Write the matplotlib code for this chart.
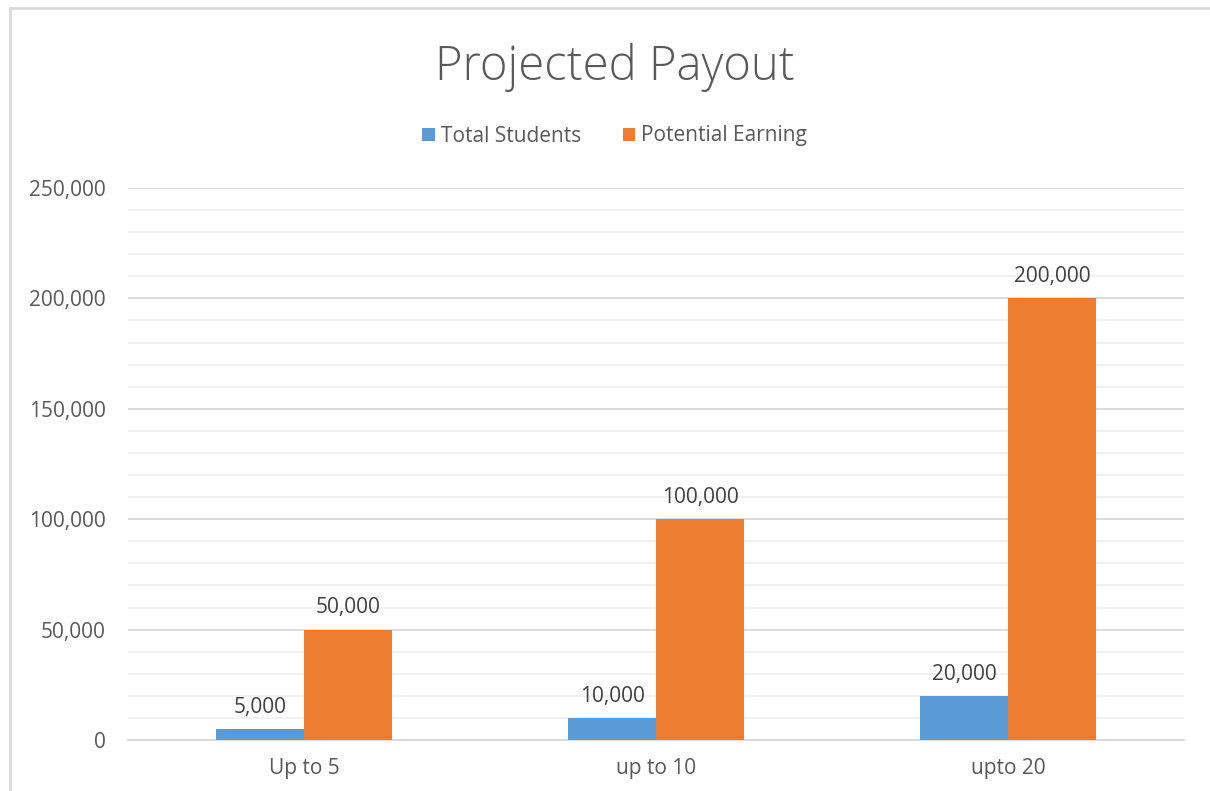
import numpy as np
import matplotlib.pyplot as plt
from matplotlib.lines import Line2D
from matplotlib.ticker import MultipleLocator, FuncFormatter

categories = ['Up to 5', 'up to 10', 'upto 20']
total_students = [5000, 10000, 20000]
potential_earning = [50000, 100000, 200000]

plt.rcParams['font.family'] = ['Open Sans', 'DejaVu Sans']
text_color = '#595959'

fig = plt.figure(figsize=(12.1, 7.91), dpi=100)
ax = fig.add_axes([128 / 1210, 1 - 740 / 791, 1056 / 1210, 552 / 791])

x = np.arange(len(categories))
w = 0.25
b1 = ax.bar(x - w / 2, total_students, w, color='#5B9BD5', label='Total Students', zorder=3)
b2 = ax.bar(x + w / 2, potential_earning, w, color='#ED7D31', label='Potential Earning', zorder=3)

fmt = FuncFormatter(lambda v, p: f'{int(v):,}')
for bars in (b1, b2):
    ax.bar_label(bars, labels=[f'{int(b.get_height()):,}' for b in bars],
                 padding=8, fontsize=15, color='#404040')

ax.set_xlim(-0.5, len(categories) - 0.5)
ax.set_ylim(0, 250000)
ax.yaxis.set_major_locator(MultipleLocator(50000))
ax.yaxis.set_minor_locator(MultipleLocator(10000))
ax.yaxis.set_major_formatter(fmt)
ax.set_xticks(x)
ax.set_xticklabels(categories)

ax.grid(which='major', axis='y', color='#d9d9d9', linewidth=1.3, zorder=0)
ax.grid(which='minor', axis='y', color='#f0f0f0', linewidth=1.3, zorder=0)
ax.tick_params(axis='both', which='both', length=0, colors=text_color, labelsize=15)
ax.tick_params(axis='y', pad=16)
ax.tick_params(axis='x', pad=13)
for s in ['top', 'right', 'left']:
    ax.spines[s].set_visible(False)
ax.spines['bottom'].set_color('#d9d9d9')
ax.spines['bottom'].set_linewidth(1.3)

fig.text(0.508, 1 - 67 / 791, 'Projected Payout', ha='center', va='center',
         fontsize=34, color=text_color, fontweight='light')

fig.legend(loc='center', bbox_to_anchor=(0.508, 1 - 136 / 791), ncol=2,
           frameon=False, fontsize=15, labelcolor=text_color,
           handlelength=0.6, handleheight=0.6, handletextpad=0.3, columnspacing=2.0)

# chart frame edges
fig.add_artist(Line2D([10 / 1210, 1], [1 - 8 / 791] * 2, color='#d9d9d9', linewidth=2))
fig.add_artist(Line2D([10 / 1210] * 2, [0, 1 - 8 / 791], color='#d9d9d9', linewidth=2))

fig.savefig('out.png', dpi=100)
